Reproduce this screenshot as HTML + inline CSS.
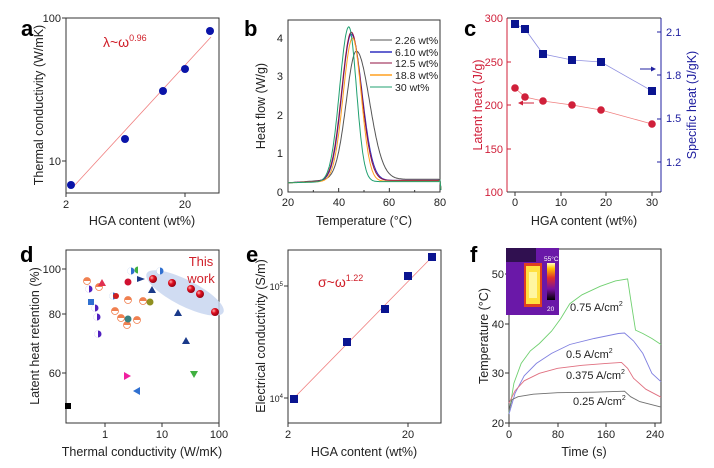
<!DOCTYPE html>
<html><head><meta charset="utf-8"><style>
html,body{margin:0;padding:0;background:#fff;}
svg{display:block;font-family:"Liberation Sans",sans-serif;}
.t{font-size:11px;fill:#222}
.l{font-size:12.5px;fill:#222}
.p{font-size:22px;font-weight:bold;fill:#000}
.ax{fill:none;stroke:#333;stroke-width:1}
</style></head><body>
<svg id="s" width="714" height="468" viewBox="0 0 714 468" xmlns="http://www.w3.org/2000/svg">
<defs>
<radialGradient id="rb" cx="0.35" cy="0.35" r="0.7"><stop offset="0" stop-color="#ffb0b0"/><stop offset="0.4" stop-color="#e01020"/><stop offset="1" stop-color="#900010"/></radialGradient>
<linearGradient id="cb" x1="0" y1="1" x2="0" y2="0"><stop offset="0" stop-color="#000"/><stop offset="0.3" stop-color="#7a10a0"/><stop offset="0.6" stop-color="#e0302a"/><stop offset="0.85" stop-color="#ffc000"/><stop offset="1" stop-color="#ffffc0"/></linearGradient>
</defs>
<!-- Panel a -->
<text class="p" x="21" y="36">a</text>
<rect class="ax" x="66" y="18" width="153" height="175"/>
<g stroke="#333">
<line x1="66" y1="18" x2="62" y2="18"/><line x1="66" y1="161" x2="62" y2="161"/>
<line x1="66" y1="193" x2="66" y2="197"/><line x1="185" y1="193" x2="185" y2="197"/>
</g>
<text class="t" x="61" y="22" text-anchor="end">100</text>
<text class="t" x="61" y="165" text-anchor="end">10</text>
<text class="t" x="66" y="208" text-anchor="middle">2</text>
<text class="t" x="185" y="208" text-anchor="middle">20</text>
<text class="l" x="142" y="225" text-anchor="middle">HGA content (wt%)</text>
<text class="l" transform="translate(43,105) rotate(-90)" text-anchor="middle">Thermal conductivity (W/mK)</text>
<line x1="74" y1="186" x2="211" y2="37" stroke="#f08080" stroke-width="0.8"/>
<g fill="#0a14a8"><circle cx="71" cy="185" r="4"/><circle cx="125" cy="139" r="4"/><circle cx="163" cy="91" r="4"/><circle cx="185" cy="69" r="4"/><circle cx="210" cy="31" r="4"/></g>
<text x="103" y="47" font-size="14" fill="#d0202a">λ~ω<tspan font-size="9" dy="-6">0.96</tspan></text>

<!-- Panel b -->
<text class="p" x="244" y="36">b</text>
<rect class="ax" x="288" y="20" width="152" height="172"/>
<g stroke="#333" id="bt"></g>
<text class="t" x="283" y="196" text-anchor="end">0</text>
<text class="t" x="283" y="157" text-anchor="end">1</text>
<text class="t" x="283" y="119" text-anchor="end">2</text>
<text class="t" x="283" y="80" text-anchor="end">3</text>
<text class="t" x="283" y="42" text-anchor="end">4</text>
<text class="t" x="288" y="206" text-anchor="middle">20</text>
<text class="t" x="339" y="206" text-anchor="middle">40</text>
<text class="t" x="389" y="206" text-anchor="middle">60</text>
<text class="t" x="440" y="206" text-anchor="middle">80</text>
<text class="l" x="364" y="225" text-anchor="middle">Temperature (°C)</text>
<text class="l" transform="translate(265,106) rotate(-90)" text-anchor="middle">Heat flow (W/g)</text>
<g id="bc" fill="none" stroke-width="1"></g>
<g font-size="10.5" fill="#222">
<line x1="370" y1="40" x2="392" y2="40" stroke="#555"/><text x="395" y="44">2.26 wt%</text>
<line x1="370" y1="52" x2="392" y2="52" stroke="#3030c0" stroke-width="1.5"/><text x="395" y="56">6.10 wt%</text>
<line x1="370" y1="63" x2="392" y2="63" stroke="#901040"/><text x="395" y="67">12.5 wt%</text>
<line x1="370" y1="75" x2="392" y2="75" stroke="#ffa020" stroke-width="1.5"/><text x="395" y="79">18.8 wt%</text>
<line x1="370" y1="87" x2="392" y2="87" stroke="#20a070"/><text x="395" y="91">30 wt%</text>
</g>

<!-- Panel c -->
<text class="p" x="464" y="36">c</text>
<line x1="507" y1="18" x2="507" y2="192" stroke="#d0203a"/>
<line x1="661" y1="18" x2="661" y2="192" stroke="#2020a0"/>
<line x1="507" y1="18" x2="661" y2="18" stroke="#333"/>
<line x1="507" y1="192" x2="661" y2="192" stroke="#333"/>
<g class="t" text-anchor="end">
<text x="503" y="22" style="fill:#d0203a">300</text><text x="503" y="66" style="fill:#d0203a">250</text><text x="503" y="109" style="fill:#d0203a">200</text><text x="503" y="153" style="fill:#d0203a">150</text><text x="503" y="196" style="fill:#d0203a">100</text>
</g>
<g class="t"><text x="666" y="36" style="fill:#2020a0">2.1</text><text x="666" y="79" style="fill:#2020a0">1.8</text><text x="666" y="122" style="fill:#2020a0">1.5</text><text x="666" y="166" style="fill:#2020a0">1.2</text></g>
<g stroke="#d0203a"><line x1="507" y1="62" x2="511" y2="62"/><line x1="507" y1="105" x2="511" y2="105"/><line x1="507" y1="149" x2="511" y2="149"/></g>
<g stroke="#2020a0"><line x1="661" y1="32" x2="657" y2="32"/><line x1="661" y1="75" x2="657" y2="75"/><line x1="661" y1="119" x2="657" y2="119"/><line x1="661" y1="162" x2="657" y2="162"/></g>
<g stroke="#333"><line x1="515" y1="192" x2="515" y2="196"/><line x1="561" y1="192" x2="561" y2="196"/><line x1="606" y1="192" x2="606" y2="196"/><line x1="652" y1="192" x2="652" y2="196"/></g>
<text class="t" x="515" y="206" text-anchor="middle">0</text><text class="t" x="561" y="206" text-anchor="middle">10</text><text class="t" x="606" y="206" text-anchor="middle">20</text><text class="t" x="652" y="206" text-anchor="middle">30</text>
<text class="l" x="584" y="225" text-anchor="middle">HGA content (wt%)</text>
<text class="l" transform="translate(482,105) rotate(-90)" text-anchor="middle" style="fill:#d0203a">Latent heat (J/g)</text>
<text class="l" transform="translate(696,105) rotate(-90)" text-anchor="middle" style="fill:#2020a0">Specific heat (J/gK)</text>
<polyline points="515,88 525,97 543,101 572,105 601,110 652,124" fill="none" stroke="#f08080" stroke-width="0.8"/>
<g fill="#d0203a"><circle cx="515" cy="88" r="3.8"/><circle cx="525" cy="97" r="3.8"/><circle cx="543" cy="101" r="3.8"/><circle cx="572" cy="105" r="3.8"/><circle cx="601" cy="110" r="3.8"/><circle cx="652" cy="124" r="3.8"/></g>
<polyline points="515,24 525,29 543,54 572,60 601,62 652,91" fill="none" stroke="#9090e0" stroke-width="0.8"/>
<g fill="#0a1490"><rect x="511" y="20" width="8" height="8"/><rect x="521" y="25" width="8" height="8"/><rect x="539" y="50" width="8" height="8"/><rect x="568" y="56" width="8" height="8"/><rect x="597" y="58" width="8" height="8"/><rect x="648" y="87" width="8" height="8"/></g>
<line x1="521" y1="103" x2="534" y2="103" stroke="#d0203a"/><path d="M518,103 L523,100.5 L523,105.5Z" fill="#d0203a"/>
<line x1="640" y1="69" x2="652" y2="69" stroke="#2020a0"/><path d="M656,69 L651,66.5 L651,71.5Z" fill="#2020a0"/>

<!-- Panel d -->
<text class="p" x="20" y="262">d</text>
<rect class="ax" x="66" y="250" width="153" height="173"/>
<g stroke="#333"><line x1="105" y1="423" x2="105" y2="427"/><line x1="162" y1="423" x2="162" y2="427"/><line x1="219" y1="423" x2="219" y2="427"/>
<line x1="66" y1="269" x2="62" y2="269"/><line x1="66" y1="314" x2="62" y2="314"/><line x1="66" y1="373" x2="62" y2="373"/></g>
<text class="t" x="61" y="273" text-anchor="end">100</text><text class="t" x="61" y="318" text-anchor="end">80</text><text class="t" x="61" y="377" text-anchor="end">60</text>
<text class="t" x="105" y="438" text-anchor="middle">1</text><text class="t" x="162" y="438" text-anchor="middle">10</text><text class="t" x="219" y="438" text-anchor="middle">100</text>
<text class="l" x="142" y="456" text-anchor="middle">Thermal conductivity (W/mK)</text>
<text class="l" transform="translate(39,336) rotate(-90)" text-anchor="middle">Latent heat retention (%)</text>
<ellipse cx="185" cy="293" rx="43" ry="13" transform="rotate(27 185 293)" fill="#c8d6f0" opacity="0.85"/>
<g id="dm"></g>
<text x="201" y="266" font-size="13" fill="#d0202a" text-anchor="middle">This</text>
<text x="201" y="283" font-size="13" fill="#d0202a" text-anchor="middle">work</text>

<!-- Panel e -->
<text class="p" x="246" y="262">e</text>
<rect class="ax" x="288" y="250" width="153" height="173"/>
<g stroke="#333"><line x1="288" y1="286" x2="284" y2="286"/><line x1="288" y1="398" x2="284" y2="398"/><line x1="288" y1="423" x2="288" y2="427"/><line x1="408" y1="423" x2="408" y2="427"/></g>
<text x="283" y="290" font-size="9" fill="#222" text-anchor="end">10<tspan font-size="6" dy="-4">5</tspan></text>
<text x="283" y="402" font-size="9" fill="#222" text-anchor="end">10<tspan font-size="6" dy="-4">4</tspan></text>
<text class="t" x="288" y="438" text-anchor="middle">2</text><text class="t" x="408" y="438" text-anchor="middle">20</text>
<text class="l" x="364" y="456" text-anchor="middle">HGA content (wt%)</text>
<text class="l" transform="translate(265,336) rotate(-90)" text-anchor="middle">Electrical conductivity (S/m)</text>
<line x1="294" y1="398" x2="432" y2="257" stroke="#f08080" stroke-width="0.8"/>
<g fill="#0a1490"><rect x="290" y="395" width="8" height="8"/><rect x="343" y="338" width="8" height="8"/><rect x="381" y="305" width="8" height="8"/><rect x="404" y="272" width="8" height="8"/><rect x="428" y="253" width="8" height="8"/></g>
<text x="318" y="287" font-size="14" fill="#d0202a">σ~ω<tspan font-size="9" dy="-6">1.22</tspan></text>

<!-- Panel f -->
<text class="p" x="470" y="262">f</text>
<rect class="ax" x="509" y="249" width="152" height="174"/>
<g stroke="#333"><line x1="509" y1="274" x2="505" y2="274"/><line x1="509" y1="324" x2="505" y2="324"/><line x1="509" y1="373" x2="505" y2="373"/><line x1="509" y1="423" x2="505" y2="423"/>
<line x1="509" y1="423" x2="509" y2="427"/><line x1="558" y1="423" x2="558" y2="427"/><line x1="606" y1="423" x2="606" y2="427"/><line x1="655" y1="423" x2="655" y2="427"/></g>
<text class="t" x="504" y="278" text-anchor="end">50</text><text class="t" x="504" y="328" text-anchor="end">40</text><text class="t" x="504" y="377" text-anchor="end">30</text><text class="t" x="504" y="427" text-anchor="end">20</text>
<text class="t" x="509" y="438" text-anchor="middle">0</text><text class="t" x="558" y="438" text-anchor="middle">80</text><text class="t" x="606" y="438" text-anchor="middle">160</text><text class="t" x="655" y="438" text-anchor="middle">240</text>
<text class="l" x="584" y="456" text-anchor="middle">Time (s)</text>
<text class="l" transform="translate(488,336) rotate(-90)" text-anchor="middle">Temperature (°C)</text>
<g id="fc" fill="none" stroke-width="0.9"></g>
<rect x="506" y="248" width="53" height="67" fill="#6a18a8"/>
<rect x="506" y="248" width="30" height="14" fill="#301050"/>
<rect x="524" y="263" width="18" height="44" fill="#e04020"/>
<rect x="526" y="266" width="14" height="38" fill="#ffe040"/>
<rect x="529" y="272" width="8" height="26" fill="#fff6a0"/>
<rect x="547" y="263" width="8" height="37" fill="url(#cb)"/>
<text x="544" y="261" font-size="6.5" fill="#fff">55°C</text>
<text x="547" y="311" font-size="6.5" fill="#fff">20</text>
<g font-size="11" fill="#222">
<text x="570" y="311">0.75 A/cm<tspan font-size="7" dy="-5">2</tspan></text>
<text x="566" y="358">0.5 A/cm<tspan font-size="7" dy="-5">2</tspan></text>
<text x="566" y="379">0.375 A/cm<tspan font-size="7" dy="-5">2</tspan></text>
<text x="573" y="405">0.25 A/cm<tspan font-size="7" dy="-5">2</tspan></text>
</g>
</svg>
<script>
var NS="http://www.w3.org/2000/svg";
function el(p,t,a){var e=document.createElementNS(NS,t);for(var k in a)e.setAttribute(k,a[k]);p.appendChild(e);return e;}
var bt=document.getElementById('bt');
[20,30,40,50,60,70,80].forEach(function(v){var x=288+(v-20)*152/60;el(bt,'line',{x1:x,y1:192,x2:x,y2:v%20==0?188:190});});
var bc=document.getElementById('bc');
var cur=[["#555",47,3.33,4.0,5.2,0.33],["#3030c0",45,3.8,3.7,4.2,0.3],["#901040",45,3.85,3.8,4.0,0.3],["#ffa020",45.5,3.72,3.7,3.4,0.28],["#20a070",44,4.02,3.6,3.0,0.27]];
cur.forEach(function(c){var d="";for(var T=20;T<=79.5;T+=0.25){var s=T<c[1]?c[3]:c[4];var base=0.24+ (c[5]-0.24)*Math.min(1,(T-20)/20);var y=base+c[2]*Math.exp(-Math.pow((T-c[1])/s,2)/2);var x=288+(T-20)*152/60;var py=192-y*38.5;d+=(d?"L":"M")+x.toFixed(1)+","+py.toFixed(1);}
d+="L440,"+(192-0.3*38.5)+"L441,190";el(bc,'path',{d:d,stroke:c[0]});});
var dm=document.getElementById('dm');
function half(x,y,c1,c2,r){r=r||3.5;el(dm,'circle',{cx:x,cy:y,r:r,fill:c2});el(dm,'path',{d:"M"+x+","+(y-r)+"A"+r+","+r+" 0 0 0 "+x+","+(y+r)+"Z",fill:c1});}
function halfH(x,y,c,r){r=r||3.5;el(dm,'circle',{cx:x,cy:y,r:r,fill:"#fff",stroke:c,"stroke-width":0.8});el(dm,'path',{d:"M"+(x-r)+","+y+"A"+r+","+r+" 0 0 1 "+(x+r)+","+y+"Z",fill:c});}
[[87,281],[99,287],[115,311],[121,318],[127,325],[128,300],[137,320],[143,301]].forEach(function(p){halfH(p[0],p[1],"#f08050");});
[[89,289],[95,308],[97,317],[98,334]].forEach(function(p){half(p[0],p[1],"#fff","#5020c0");});
[[113,296],[131,271],[160,271]].forEach(function(p){half(p[0],p[1],"#fff","#3070d0");});
el(dm,'rect',{x:88,y:299,width:6,height:6,fill:"#3070d0"});
el(dm,'path',{d:"M102,279 L106,286 L98,286Z",fill:"#e03050"});
el(dm,'circle',{cx:116,cy:296,r:3,fill:"#d02020"});
el(dm,'circle',{cx:128,cy:319,r:3.5,fill:"#3a8080"});
el(dm,'circle',{cx:128,cy:282,r:3.5,fill:"#d01030"});
half(138,270,"#40b040","#fff");
el(dm,'path',{d:"M137,276 L145,279 L137,282Z",fill:"#1a3a8a"});
el(dm,'circle',{cx:150,cy:302,r:3.5,fill:"#909020"});
[[152,290],[178,313],[186,341]].forEach(function(p){el(dm,'path',{d:"M"+p[0]+","+(p[1]-4)+" L"+(p[0]+4)+","+(p[1]+3)+" L"+(p[0]-4)+","+(p[1]+3)+"Z",fill:"#1a3a8a"});});
[[153,279],[172,283],[191,289],[200,294],[215,312]].forEach(function(p){el(dm,'circle',{cx:p[0],cy:p[1],r:4,fill:"url(#rb)"});});
el(dm,'path',{d:"M124,372 L131,376 L124,380Z",fill:"#f020a0"});
el(dm,'path',{d:"M140,387 L133,391 L140,395Z",fill:"#3070d0"});
el(dm,'path',{d:"M190,371 L198,371 L194,378Z",fill:"#40b040"});
el(dm,'rect',{x:65,y:403,width:6,height:6,fill:"#000"});
var fc=document.getElementById('fc');
function fx(t){return 509+t*0.608;} function fy(v){return 423-(v-20)*4.97;}
var fcur=[["#70d070",[[0,22],[8,28],[20,32],[35,34.5],[50,36],[70,38.5],[85,41],[100,44],[120,45.8],[150,47.5],[175,48.6],[195,49],[200,45],[208,38.7],[220,38],[235,37],[250,35.8]]],
["#8080e0",[[0,21.8],[10,26],[25,29.5],[45,32],[70,34],[100,35.8],[140,37],[180,38],[190,38.1],[205,36.5],[220,34],[235,30],[250,28.3]]],
["#e07080",[[0,24],[10,26.5],[25,28.5],[50,30],[80,31],[120,31.6],[160,32],[185,32.2],[195,31],[205,29],[225,26.8],[250,25.2]]],
["#707070",[[0,22.5],[5,24.7],[15,25.3],[40,25.8],[80,26.1],[140,26.2],[190,26.4],[200,25.3],[215,24.3],[250,23.2]]]];
fcur.forEach(function(c){var d=c[1].map(function(p,i){return (i?"L":"M")+fx(p[0]).toFixed(1)+","+fy(p[1]).toFixed(1);}).join("");el(fc,'path',{d:d,stroke:c[0]});});
</script>
</body></html>
